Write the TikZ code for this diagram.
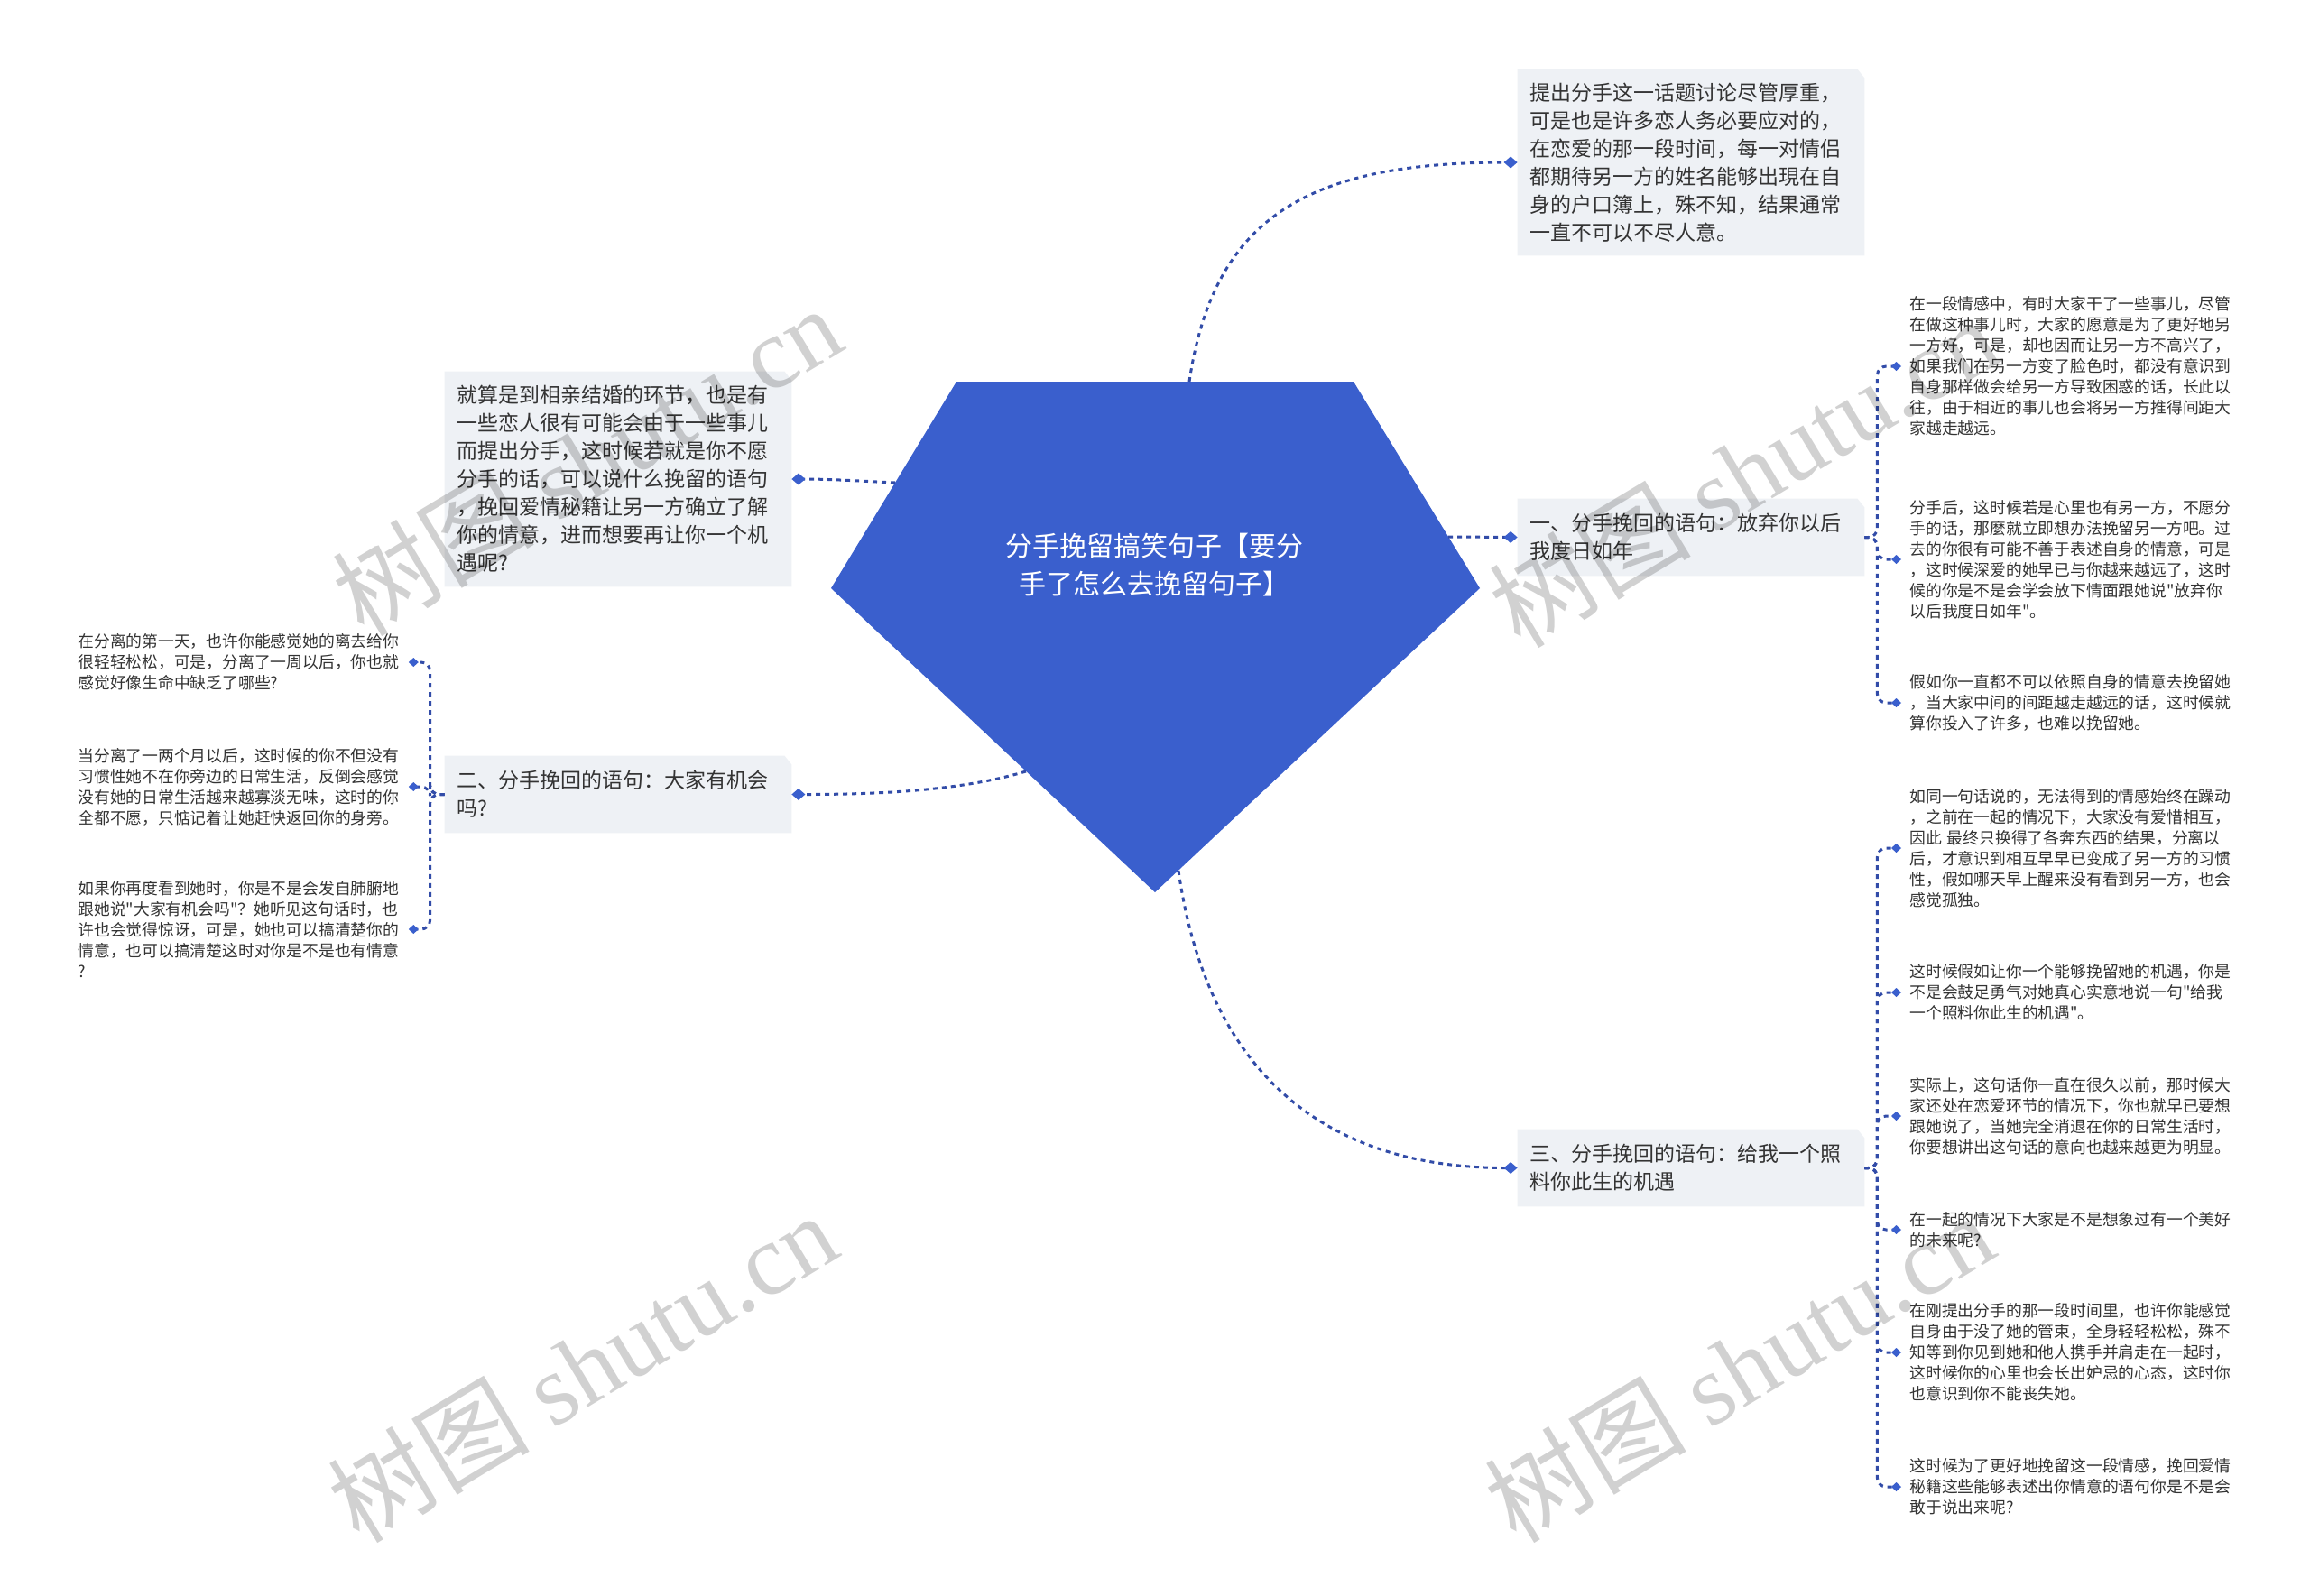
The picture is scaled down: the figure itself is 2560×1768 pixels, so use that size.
\documentclass[tikz,border=0pt]{standalone}
\usepackage{fontspec}
\setmainfont{Noto Sans CJK SC}
\newfontfamily\wmserif{Liberation Serif}
\usetikzlibrary{arrows.meta,backgrounds}
\definecolor{rootblue}{RGB}{58,95,205}
\definecolor{lineblue}{RGB}{50,76,168}
\definecolor{boxfill}{RGB}{238,241,245}
\definecolor{txt}{RGB}{51,51,51}
\newcommand{\q}{\textquotedbl}
\tikzset{
  conn/.style={draw=lineblue, line width=1.5pt, dash pattern=on 2.5pt off 2.5pt},
  bigtip/.style={-{Diamond[length=7.5pt,width=6.5pt,color=rootblue]}},
  smalltip/.style={-{Diamond[length=5.5pt,width=5pt,color=rootblue]}},
  topic/.style={rectangle, inner xsep=6.5pt, inner ysep=0pt, text width=179pt, align=left, text=txt, font=\fontsize{11.5pt}{15.5pt}\selectfont},
  leaf/.style={rectangle, inner xsep=4.5pt, inner ysep=0pt, text width=178.5pt, align=left, text=txt, font=\fontsize{8.9pt}{11.5pt}\selectfont, anchor=west},
  wm/.style={text=black, text opacity=0.18, rotate=31, font=\fontsize{56pt}{60pt}\selectfont},
  rightbr/.style={conn, smalltip, rounded corners=5pt},
}
\newcommand{\boxbg}[1]{\begin{pgfonlayer}{background}\fill[boxfill] (#1.south west) -- (#1.north west) -- ([xshift=-4pt]#1.north east) -- ([yshift=-5pt]#1.north east) -- (#1.south east) -- cycle;\end{pgfonlayer}}
\begin{document}
\begin{tikzpicture}[x=0.5pt,y=-0.5pt]
\begin{pgfonlayer}{background}
\fill[white] (0,0) rectangle (2560,1768);
\end{pgfonlayer}
\useasboundingbox (0,0) rectangle (2560,1768);

% root pentagon
\fill[rootblue] (1060,423) -- (1500,423) -- (1640,652) -- (1280,989) -- (921,652) -- cycle;
\node[text=white, align=center, font=\fontsize{15pt}{21pt}\selectfont] (root) at (1279,626) {分手挽留搞笑句子【要分\\手了怎么去挽留句子】};
\coordinate (rtop) at (1318,423);
\coordinate (rright) at (1605,595);
\coordinate (rbottom) at (1306,965);
\coordinate (rleft) at (992,535);
\coordinate (rll) at (1137,855);

% topic boxes
\node[topic, minimum height=103pt] (tr) at (1874,180) {提出分手这一话题讨论尽管厚重，\\可是也是许多恋人务必要应对的，\\在恋爱的那一段时间，每一对情侣\\都期待另一方的姓名能够出現在自\\身的户口簿上，殊不知，结果通常\\一直不可以不尽人意。};
\boxbg{tr}
\node[topic, minimum height=42.5pt] (b1) at (1874,595.5) {一、分手挽回的语句：放弃你以后\\我度日如年};
\boxbg{b1}
\node[topic, minimum height=42.5pt] (b3) at (1874,1294.5) {三、分手挽回的语句：给我一个照\\料你此生的机遇};
\boxbg{b3}
\node[topic, minimum height=119pt] (b0) at (685,531) {就算是到相亲结婚的环节，也是有\\一些恋人很有可能会由于一些事儿\\而提出分手，这时候若就是你不愿\\分手的话，可以说什么挽留的语句\\，挽回爱情秘籍让另一方确立了解\\你的情意，进而想要再让你一个机\\遇呢?};
\boxbg{b0}
\node[topic, minimum height=42.5pt] (b2) at (685,880.5) {二、分手挽回的语句：大家有机会\\吗?};
\boxbg{b2}

% main connectors
\draw[conn, bigtip] (rtop) .. controls (1345,240) and (1450,180) .. (tr.west);
\draw[conn, bigtip] (rright) -- (b1.west);
\draw[conn, bigtip] (rbottom) .. controls (1335,1170) and (1450,1294.5) .. (b3.west);
\draw[conn, bigtip] (rleft) .. controls (950,533) and (920,531) .. (b0.east);
\draw[conn, bigtip] (rll) .. controls (1060,878) and (960,880.5) .. (b2.east);

% right leaves group 1
\node[leaf] (l1) at (2107,406) {在一段情感中，有时大家干了一些事儿，尽管\\在做这种事儿时，大家的愿意是为了更好地另\\一方好，可是，却也因而让另一方不高兴了，\\如果我们在另一方变了脸色时，都没有意识到\\自身那样做会给另一方导致困惑的话，长此以\\往，由于相近的事儿也会将另一方推得间距大\\家越走越远。};
\node[leaf] (l2) at (2107,620) {分手后，这时候若是心里也有另一方，不愿分\\手的话，那麼就立即想办法挽留另一方吧。过\\去的你很有可能不善于表述自身的情意，可是\\，这时候深爱的她早已与你越来越远了，这时\\候的你是不是会学会放下情面跟她说\q 放弃你\\以后我度日如年\q 。};
\node[leaf] (l3) at (2107,779) {假如你一直都不可以依照自身的情意去挽留她\\，当大家中间的间距越走越远的话，这时候就\\算你投入了许多，也难以挽留她。};

% right leaves group 2
\node[leaf] (l4) at (2107,940) {如同一句话说的，无法得到的情感始终在躁动\\，之前在一起的情况下，大家没有爱惜相互，\\因此 最终只换得了各奔东西的结果，分离以\\后，才意识到相互早早已变成了另一方的习惯\\性，假如哪天早上醒来没有看到另一方，也会\\感觉孤独。};
\node[leaf] (l5) at (2107,1100) {这时候假如让你一个能够挽留她的机遇，你是\\不是会鼓足勇气对她真心实意地说一句\q 给我\\一个照料你此生的机遇\q 。};
\node[leaf] (l6) at (2107,1237) {实际上，这句话你一直在很久以前，那时候大\\家还处在恋爱环节的情况下，你也就早已要想\\跟她说了，当她完全消退在你的日常生活时，\\你要想讲出这句话的意向也越来越更为明显。};
\node[leaf] (l7) at (2107,1363) {在一起的情况下大家是不是想象过有一个美好\\的未来呢?};
\node[leaf] (l8) at (2107,1499) {在刚提出分手的那一段时间里，也许你能感觉\\自身由于没了她的管束，全身轻轻松松，殊不\\知等到你见到她和他人携手并肩走在一起时，\\这时候你的心里也会长出妒忌的心态，这时你\\也意识到你不能丧失她。};
\node[leaf] (l9) at (2107,1648) {这时候为了更好地挽留这一段情感，挽回爱情\\秘籍这些能够表述出你情意的语句你是不是会\\敢于说出来呢?};

% left leaves
\node[leaf] (la) at (77,734) {在分离的第一天，也许你能感觉她的离去给你\\很轻轻松松，可是，分离了一周以后，你也就\\感觉好像生命中缺乏了哪些?};
\node[leaf] (lb) at (77,872) {当分离了一两个月以后，这时候的你不但没有\\习惯性她不在你旁边的日常生活，反倒会感觉\\没有她的日常生活越来越寡淡无味，这时的你\\全都不愿，只惦记着让她赶快返回你的身旁。};
\node[leaf] (lc) at (77,1030) {如果你再度看到她时，你是不是会发自肺腑地\\跟她说\q 大家有机会吗\q ？她听见这句话时，也\\许也会觉得惊讶，可是，她也可以搞清楚你的\\情意，也可以搞清楚这时对你是不是也有情意\\?};

% bracket connectors
\foreach \n in {l1,l2,l3} \draw[rightbr] (b1.east) -- ++(7pt,0) |- (\n.west);
\foreach \n in {l4,l5,l6,l7,l8,l9} \draw[rightbr] (b3.east) -- ++(7pt,0) |- (\n.west);
\foreach \n in {la,lb,lc} \draw[rightbr] (b2.west) -- ++(-8pt,0) |- (\n.east);

% watermarks
\node[wm] (wm1) at (650,510) {树图 {\wmserif shutu.cn}};
\node[wm] (wm2) at (1932,523) {树图 {\wmserif shutu.cn}};
\node[wm] (wm3) at (645,1515) {树图 {\wmserif shutu.cn}};
\node[wm] (wm4) at (1927,1515) {树图 {\wmserif shutu.cn}};
\end{tikzpicture}
\end{document}
